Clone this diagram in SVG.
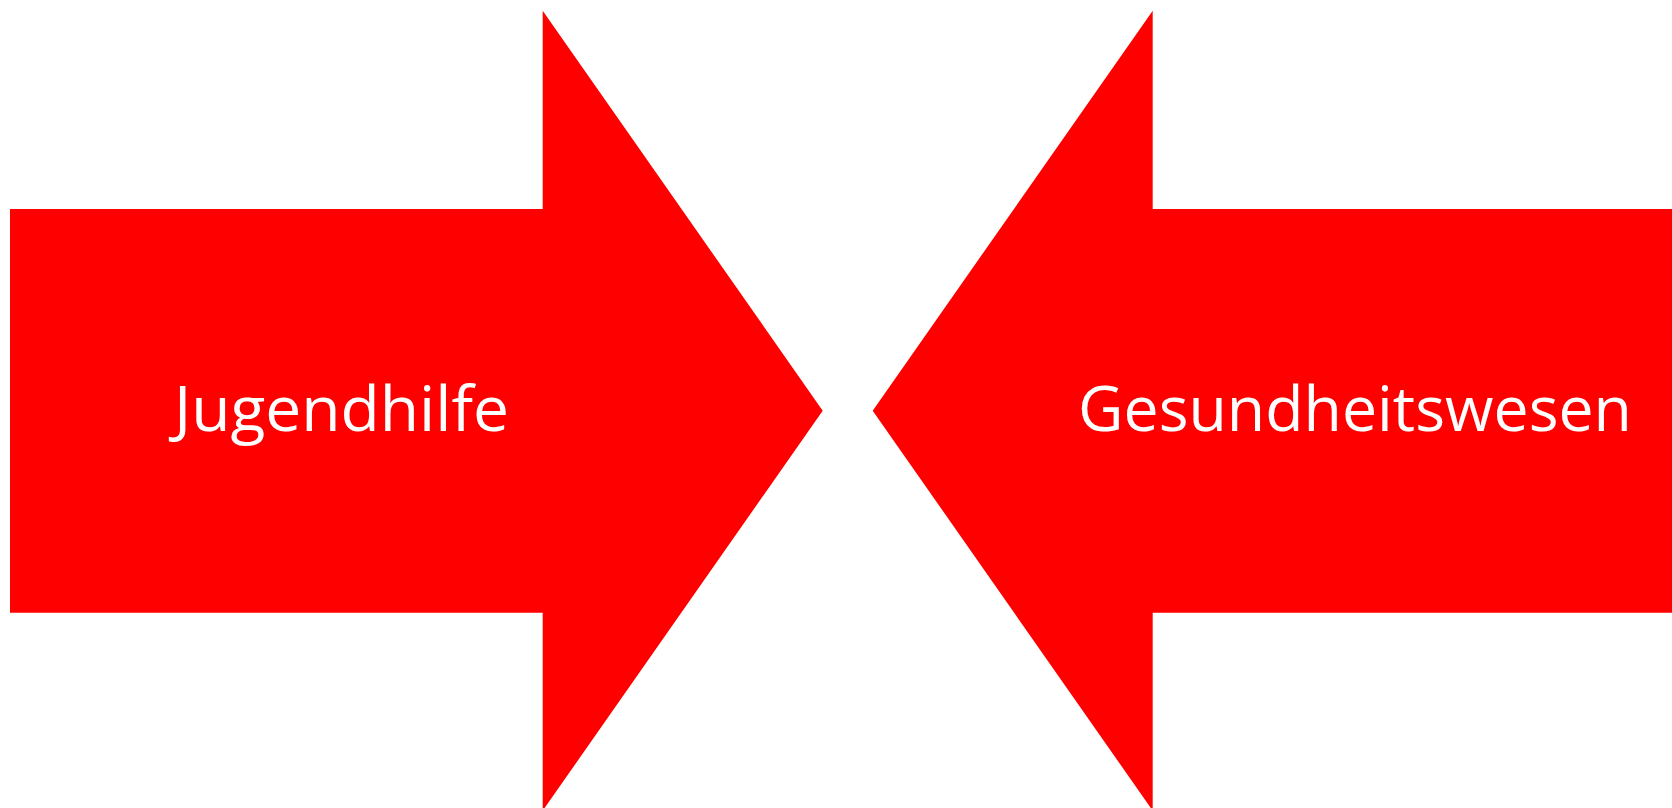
<svg xmlns="http://www.w3.org/2000/svg" width="1672" height="808" viewBox="0 0 1672 808">
  <style>
    .arrow { fill: #FF0000; stroke: none; }
    .label { fill: #FFFFFF; font-family: "Open Sans", "Liberation Sans", sans-serif; font-size: 63px; }
  </style>
  <rect x="0" y="0" width="1672" height="808" fill="#FFFFFF"/>
  <g id="node-jugendhilfe">
    <polygon class="arrow" points="10,209 542.7,209 542.7,10.7 822.7,410.7 542.7,810.7 542.7,612.7 10,612.7"/>
    <text class="label" x="174" y="431" textLength="335" lengthAdjust="spacingAndGlyphs">Jugendhilfe</text>
  </g>
  <g id="node-gesundheitswesen">
    <polygon class="arrow" points="1700,209 1152.7,209 1152.7,10.7 872.7,410.7 1152.7,810.7 1152.7,612.7 1700,612.7"/>
    <text class="label" x="1078" y="431" textLength="554" lengthAdjust="spacingAndGlyphs">Gesundheitswesen</text>
  </g>
  <g id="connectors"></g>
</svg>
